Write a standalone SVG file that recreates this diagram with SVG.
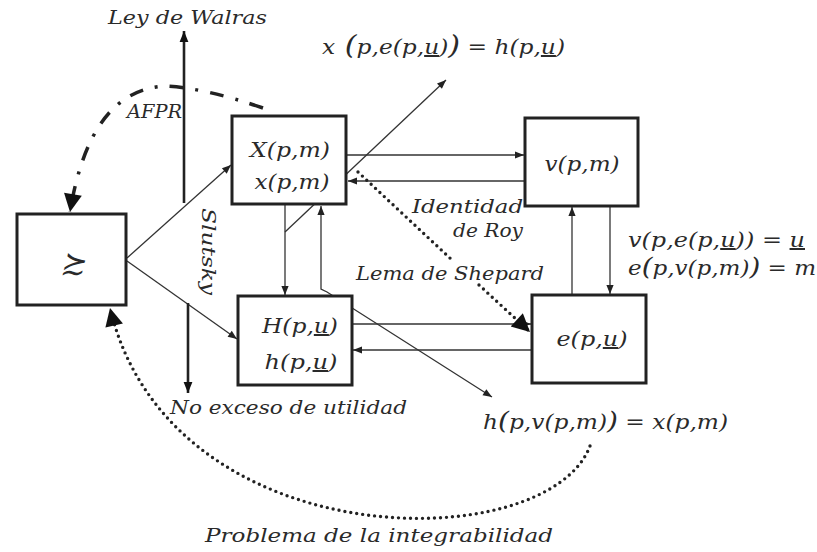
<svg xmlns="http://www.w3.org/2000/svg" width="817" height="552" viewBox="0 0 817 552">
<style>
.box{fill:#fff;stroke:#222;stroke-width:3}
.t{font-family:"DejaVu Serif",serif;font-style:italic;font-size:19px;fill:#2a2a2a}
.m{font-family:"DejaVu Serif",serif;font-style:italic;font-size:20px;fill:#2a2a2a}
.ln{fill:none;stroke:#333;stroke-width:1.3}
.ax{fill:none;stroke:#222;stroke-width:2.6}
.dot{fill:none;stroke:#222;stroke-width:3.4;stroke-linecap:round;stroke-dasharray:0 6}
.dd{fill:none;stroke:#222;stroke-width:3.5;stroke-dasharray:14 12 3 12}
.u{text-decoration:underline}
</style>
<defs>
<marker id="a" viewBox="0 0 10 10" refX="10" refY="5" markerWidth="10" markerHeight="9" markerUnits="userSpaceOnUse" orient="auto-start-reverse"><path d="M0,1 L10,5 L0,9 z" fill="#222" stroke="none"/></marker>
<marker id="b" viewBox="0 0 10 10" refX="10" refY="5" markerWidth="12" markerHeight="11" markerUnits="userSpaceOnUse" orient="auto"><path d="M0,1 L10,5 L0,9 z" fill="#111" stroke="none"/></marker>
<marker id="c" viewBox="0 0 10 10" refX="10" refY="5" markerWidth="22" markerHeight="18" markerUnits="userSpaceOnUse" orient="auto"><path d="M0,0 L10,5 L0,10 z" fill="#111" stroke="none"/></marker>
</defs>

<g id="connectors">
<line class="ln" x1="127" y1="258" x2="231" y2="165" marker-end="url(#a)"/>
<line class="ln" x1="127" y1="261" x2="237" y2="339" marker-end="url(#a)"/>
<line class="ln" x1="347" y1="155" x2="524" y2="155" marker-end="url(#a)"/>
<line class="ln" x1="524" y1="181" x2="348" y2="181" marker-end="url(#a)"/>
<line class="ln" x1="353" y1="324" x2="531" y2="324" marker-end="url(#a)"/>
<line class="ln" x1="531" y1="350" x2="353" y2="350" marker-end="url(#a)"/>
<line class="ln" x1="572" y1="294" x2="572" y2="207" marker-end="url(#a)"/>
<line class="ln" x1="610" y1="207" x2="610" y2="294" marker-end="url(#a)"/>
<line class="ln" x1="285" y1="205" x2="285" y2="295" marker-end="url(#a)"/>
<line class="ln" x1="285" y1="232" x2="446" y2="80" marker-end="url(#a)"/>
<polyline class="ln" points="492,397 327,292 321,289 321,206" marker-start="url(#a)" marker-end="url(#a)"/>
<line class="ax" x1="184" y1="203" x2="184" y2="31" marker-end="url(#b)"/>
<line class="ax" x1="188" y1="303" x2="188" y2="393" marker-end="url(#b)"/>
<line class="dot" x1="358" y1="172" x2="452" y2="260"/>
<line class="dot" x1="479" y1="285" x2="530" y2="332" marker-end="url(#c)"/>
<path class="dd" d="M263,108 Q205,88 165,86 Q90,90 70,212" marker-end="url(#c)"/>
<path class="dot" d="M590,446 C548,558 170,560 110,308" marker-end="url(#c)"/>
</g>

<g id="pref">
<rect class="box" x="17" y="214" width="109" height="91"/>
<text x="72" y="262" text-anchor="middle" dominant-baseline="central" font-family="DejaVu Serif,serif" font-style="italic" font-size="30" fill="#2a2a2a">≿</text>
</g>
<g id="demanda">
<rect class="box" x="232" y="116" width="114" height="88"/>
<text class="m" x="290" y="157" text-anchor="middle" textLength="80" lengthAdjust="spacingAndGlyphs">X(p,m)</text>
<text class="m" x="292" y="189" text-anchor="middle" textLength="75" lengthAdjust="spacingAndGlyphs">x(p,m)</text>
</g>
<g id="indirecta">
<rect class="box" x="525" y="118" width="113" height="88"/>
<text class="m" x="582" y="171" text-anchor="middle" textLength="75" lengthAdjust="spacingAndGlyphs">v(p,m)</text>
</g>
<g id="hicks">
<rect class="box" x="238" y="296" width="114" height="89"/>
<text class="m" x="300" y="333" text-anchor="middle" textLength="76" lengthAdjust="spacingAndGlyphs">H(p,<tspan class="u">u</tspan>)</text>
<text class="m" x="301" y="369" text-anchor="middle" textLength="73" lengthAdjust="spacingAndGlyphs">h(p,<tspan class="u">u</tspan>)</text>
</g>
<g id="gasto">
<rect class="box" x="532" y="295" width="114" height="88"/>
<text class="m" x="592" y="346" text-anchor="middle" textLength="71" lengthAdjust="spacingAndGlyphs">e(p,<tspan class="u">u</tspan>)</text>
</g>

<g id="labels">
<text class="t" x="108" y="24" textLength="159" lengthAdjust="spacingAndGlyphs">Ley de Walras</text>
<text class="t" x="127" y="118" textLength="55" lengthAdjust="spacingAndGlyphs">AFPR</text>
<text class="m" x="322" y="54" textLength="243" lengthAdjust="spacingAndGlyphs">x<tspan font-size="26"> (</tspan>p,e(p,<tspan class="u">u</tspan>)<tspan font-size="26">)</tspan> = h(p,<tspan class="u">u</tspan>)</text>
<text class="t" x="0" y="0" transform="translate(202,208) rotate(90)" textLength="87" lengthAdjust="spacingAndGlyphs">Slutsky</text>
<text class="t" x="523" y="213" text-anchor="end" textLength="111" lengthAdjust="spacingAndGlyphs">Identidad</text>
<text class="t" x="523" y="237" text-anchor="end" textLength="70" lengthAdjust="spacingAndGlyphs">de Roy</text>
<text class="t" x="356" y="280" textLength="188" lengthAdjust="spacingAndGlyphs">Lema de Shepard</text>
<text class="m" x="628" y="247" textLength="177" lengthAdjust="spacingAndGlyphs">v(p,e(p,<tspan class="u">u</tspan>)) = <tspan class="u">u</tspan></text>
<text class="m" x="628" y="275" textLength="188" lengthAdjust="spacingAndGlyphs">e<tspan font-size="24">(</tspan>p,v(p,m)<tspan font-size="24">)</tspan> = m</text>
<text class="t" x="170" y="414" textLength="237" lengthAdjust="spacingAndGlyphs">No exceso de utilidad</text>
<text class="m" x="483" y="429" textLength="245" lengthAdjust="spacingAndGlyphs">h<tspan font-size="24">(</tspan>p,v(p,m)<tspan font-size="24">)</tspan> = x(p,m)</text>
<text class="t" x="205" y="542" textLength="348" lengthAdjust="spacingAndGlyphs">Problema de la integrabilidad</text>
</g>
</svg>
